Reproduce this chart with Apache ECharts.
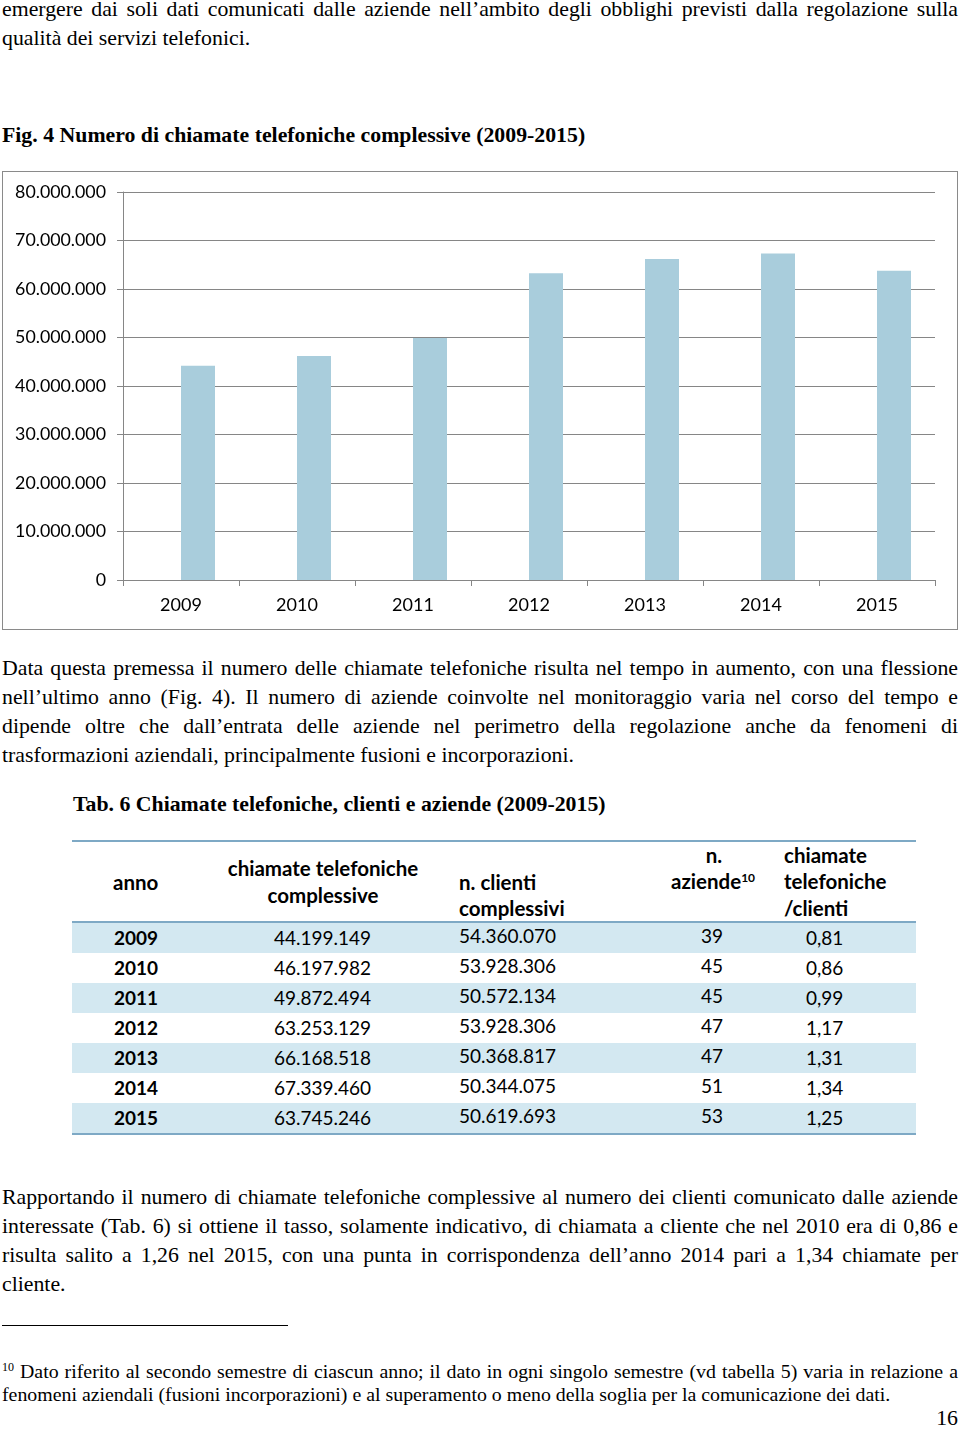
<!DOCTYPE html>
<html><head><meta charset="utf-8">
<script src="https://cdn.jsdelivr.net/npm/echarts@6/dist/echarts.min.js"></script>
<style>
html,body{margin:0;padding:0;background:#fff;}
body{width:960px;height:1429px;position:relative;overflow:hidden;}
.t{position:absolute;left:2px;width:956px;font-family:'Liberation Serif','Times New Roman',serif;font-size:21.8px;line-height:24px;color:#000;white-space:normal;}
.j{text-align:justify;text-align-last:justify;}
.b{font-weight:bold;}
.fn{font-size:19.85px;line-height:22px;}
#box{position:absolute;left:2px;top:171px;width:956px;height:459px;box-sizing:border-box;border:1px solid #8a8a8a;}
#chart{position:absolute;left:0;top:0;width:954px;height:457px;}
.c{position:absolute;font-family:'Lato','Carlito',sans-serif;font-size:19px;line-height:22px;color:#000;white-space:nowrap;}
.hd{font-weight:bold;}
.hh{font-size:20.5px;}
.shade{position:absolute;left:72px;width:844px;height:30px;background:#d3e8f1;}
.hl{position:absolute;left:72px;width:844px;height:2px;background:#7ea9c5;}
</style></head>
<body>
<div class="t j" style="top:-3px">emergere dai soli dati comunicati dalle aziende nell’ambito degli obblighi previsti dalla regolazione sulla</div>
<div class="t" style="top:26px">qualità dei servizi telefonici.</div>
<div class="t b" style="top:123px">Fig. 4 Numero di chiamate telefoniche complessive (2009-2015)</div>
<div id="box"><div id="chart"></div></div>
<div class="t j" style="top:656px">Data questa premessa il numero delle chiamate telefoniche risulta nel tempo in aumento, con una flessione</div>
<div class="t j" style="top:685px">nell’ultimo anno (Fig. 4). Il numero di aziende coinvolte nel monitoraggio varia nel corso del tempo e</div>
<div class="t j" style="top:714px">dipende oltre che dall’entrata delle aziende nel perimetro della regolazione anche da fenomeni di</div>
<div class="t" style="top:743px">trasformazioni aziendali, principalmente fusioni e incorporazioni.</div>
<div class="t b" style="top:792px;left:73px;width:880px">Tab. 6 Chiamate telefoniche, clienti e aziende (2009-2015)</div>
<div id="table"></div>
<div class="t j" style="top:1185px">Rapportando il numero di chiamate telefoniche complessive al numero dei clienti comunicato dalle aziende</div>
<div class="t j" style="top:1214px">interessate (Tab. 6) si ottiene il tasso, solamente indicativo, di chiamata a cliente che nel 2010 era di 0,86 e</div>
<div class="t j" style="top:1243px">risulta salito a 1,26 nel 2015, con una punta in corrispondenza dell’anno 2014 pari a 1,34 chiamate per</div>
<div class="t" style="top:1272px">cliente.</div>
<div style="position:absolute;left:2px;top:1325px;width:286px;height:1px;background:#000"></div>
<div class="t fn j" style="top:1360px"><sup style="font-size:12px;vertical-align:7px;line-height:0">10</sup> Dato riferito al secondo semestre di ciascun anno; il dato in ogni singolo semestre (vd tabella 5) varia in relazione a</div>
<div class="t fn" style="top:1383px">fenomeni aziendali (fusioni incorporazioni) e al superamento o meno della soglia per la comunicazione dei dati.</div>
<div class="t" style="top:1406px;text-align:right">16</div>
<script>
const years = ['2009','2010','2011','2012','2013','2014','2015'];
const calls = [44199149, 46197982, 49872494, 63253129, 66168518, 67339460, 63745246];
const clients = [54360070, 53928306, 50572134, 53928306, 50368817, 50344075, 50619693];
const firms = [39, 45, 45, 47, 47, 51, 53];
const ratio = [0.81, 0.86, 0.99, 1.17, 1.31, 1.34, 1.25];
const yMin = 0, yMax = 80000000, yStep = 10000000;

function dots(n){ return String(n).replace(/\B(?=(\d{3})+(?!\d))/g, '.'); }
function comma(v){ return v.toFixed(2).replace('.', ','); }

// table
(function(){
  const t = document.getElementById('table');
  let h = '';
  h += '<div class="hl" style="top:840px"></div>';
  h += '<div class="hl" style="top:921px"></div>';
  h += '<div class="hl" style="top:1133px"></div>';
  years.forEach((y,i)=>{ if(i%2===0) h += '<div class="shade" style="top:'+(923+i*30)+'px"></div>'; });
  // header
  h += '<div class="c hd hh" style="left:113px;top:871px">anno</div>';
  h += '<div class="c hd hh" style="left:213px;width:220px;text-align:center;top:857px">chiamate telefoniche</div>';
  h += '<div class="c hd hh" style="left:213px;width:220px;text-align:center;top:884px">complessive</div>';
  h += '<div class="c hd hh" style="left:459px;top:871px">n. clienti</div>';
  h += '<div class="c hd hh" style="left:459px;top:897px">complessivi</div>';
  h += '<div class="c hd hh" style="left:684px;width:60px;text-align:center;top:844px">n.</div>';
  h += '<div class="c hd hh" style="left:671px;top:870px">aziende<sup style="font-size:12px;vertical-align:7px;line-height:0">10</sup></div>';
  h += '<div class="c hd hh" style="left:784px;top:844px">chiamate</div>';
  h += '<div class="c hd hh" style="left:784px;top:870px">telefoniche</div>';
  h += '<div class="c hd hh" style="left:784px;top:897px">/clienti</div>';
  years.forEach((y,i)=>{
    const cy = 938 + i*30;
    h += '<div class="c hd" style="left:114px;top:'+(cy-11)+'px">'+y+'</div>';
    h += '<div class="c" style="left:274px;top:'+(cy-11)+'px">'+dots(calls[i])+'</div>';
    h += '<div class="c" style="left:459px;top:'+(cy-13)+'px">'+dots(clients[i])+'</div>';
    h += '<div class="c" style="left:701px;top:'+(cy-13)+'px">'+firms[i]+'</div>';
    h += '<div class="c" style="left:806px;top:'+(cy-11)+'px">'+comma(ratio[i])+'</div>';
  });
  t.innerHTML = h;
})();

const chart = echarts.init(document.getElementById('chart'), null, {renderer:'canvas'});
const grey = '#868686';
chart.setOption({
  animation:false,
  grid:{left:120, right:22, top:20, bottom:49},
  xAxis:{
    type:'category', data:years, boundaryGap:true,
    axisLine:{lineStyle:{color:grey,width:1}},
    axisTick:{show:true,length:6,interval:0,lineStyle:{color:grey}},
    axisLabel:{color:'#000',fontFamily:'Lato',fontSize:18,margin:16,interval:0}
  },
  yAxis:{
    type:'value', min:yMin, max:yMax, interval:yStep,
    axisLine:{show:true,lineStyle:{color:grey,width:1}},
    axisTick:{show:true,length:6,lineStyle:{color:grey}},
    splitLine:{show:true,lineStyle:{color:grey,width:1}},
    axisLabel:{color:'#000',fontFamily:'Lato',fontSize:17.8,margin:17,formatter:v=>dots(v)}
  },
  series:[
    {type:'bar',name:'',data:years.map(()=>null),barWidth:34,barGap:'0%'},
    {type:'bar',name:'chiamate',data:calls,barWidth:34,barGap:'0%',itemStyle:{color:'#a9cddc'},z:1}
  ]
});
</script>
</body></html>
